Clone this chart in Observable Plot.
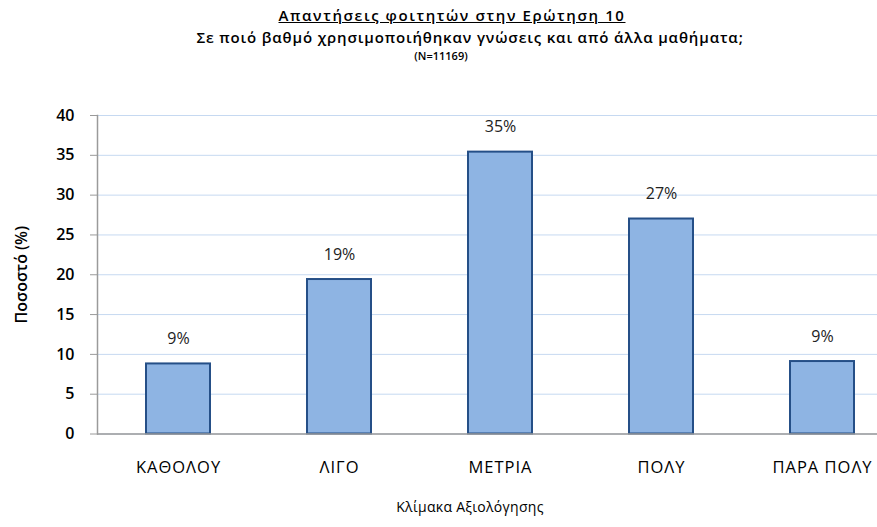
<!DOCTYPE html>
<html>
<head>
<meta charset="utf-8">
<script src="https://cdn.jsdelivr.net/npm/d3@7"></script>
<script src="https://cdn.jsdelivr.net/npm/@observablehq/plot@0.6"></script>
<style>
  html, body { margin: 0; padding: 0; background: #fff; }
  #wrap { position: relative; width: 877px; height: 527px; font-family: "Open Sans", sans-serif; }
  .t { position: absolute; white-space: nowrap; color: #000; transform: translateX(-50%); }
  #chart { position: absolute; left: 0; top: 0; }
  g[aria-label="x-axis tick label"] text { letter-spacing: 1px; }
</style>
</head>
<body>
<div id="wrap">
  <div id="chart"></div>
  <div class="t" style="left:452px; top:5px; font-size:15px; font-weight:600; text-decoration:underline; letter-spacing:1.6px;">Απαντήσεις φοιτητών στην Ερώτηση 10</div>
  <div class="t" style="left:470px; top:27px; font-size:15px; font-weight:600; letter-spacing:0.85px;">Σε ποιό βαθμό χρησιμοποιήθηκαν γνώσεις και από άλλα μαθήματα;</div>
  <div class="t" style="left:441px; top:48px; font-size:11px; font-weight:600;">(N=11169)</div>
  <div class="t" style="left:470px; top:497px; font-size:14px; letter-spacing:0.3px;">Κλίμακα Αξιολόγησης</div>
</div>
<script>
const categories = ["ΚΑΘΟΛΟΥ", "ΛΙΓΟ", "ΜΕΤΡΙΑ", "ΠΟΛΥ", "ΠΑΡΑ ΠΟΛΥ"];
const values = [8.8, 19.4, 35.4, 27.0, 9.1];
const labels = ["9%", "19%", "35%", "27%", "9%"];
const yTicks = [0, 5, 10, 15, 20, 25, 30, 35, 40];

const data = categories.map((c, i) => ({cat: c, value: values[i], label: labels[i]}));

const chart = Plot.plot({
  width: 877,
  height: 527,
  marginTop: 115,
  marginBottom: 93.5,
  marginLeft: 97,
  marginRight: 0,
  style: {fontFamily: "'Open Sans', sans-serif", background: "#fff", color: "#000"},
  x: {domain: categories, range: [97, 903], paddingInner: 0.6, paddingOuter: 0.3},
  y: {domain: [0, 40]},
  marks: [
    Plot.gridY(yTicks, {stroke: "#c6d9f1", strokeOpacity: 1}),
    Plot.barY(data, {x: "cat", y: "value", fill: "#8eb4e3", stroke: "#254f87", strokeWidth: 2}),
    Plot.text(data, {x: "cat", y: "value", text: "label", dy: -25, fontSize: 16, fill: "#222"}),
    Plot.ruleY([0], {stroke: "#9a9a9a", strokeWidth: 1.5}),
    Plot.frame({anchor: "left", stroke: "#9a9a9a", strokeWidth: 1.5}),
    Plot.axisY(yTicks, {tickSize: 7, tickPadding: 16, fontSize: 16, fontWeight: 600, stroke: "#9a9a9a",
      label: "Ποσοστό (%)", labelAnchor: "center", labelOffset: 82, labelArrow: "none"}),
    Plot.axisX({tickSize: 0, tickPadding: 27, fontSize: 16.5, label: null})
  ]
});
document.getElementById("chart").appendChild(chart);
</script>
</body>
</html>
